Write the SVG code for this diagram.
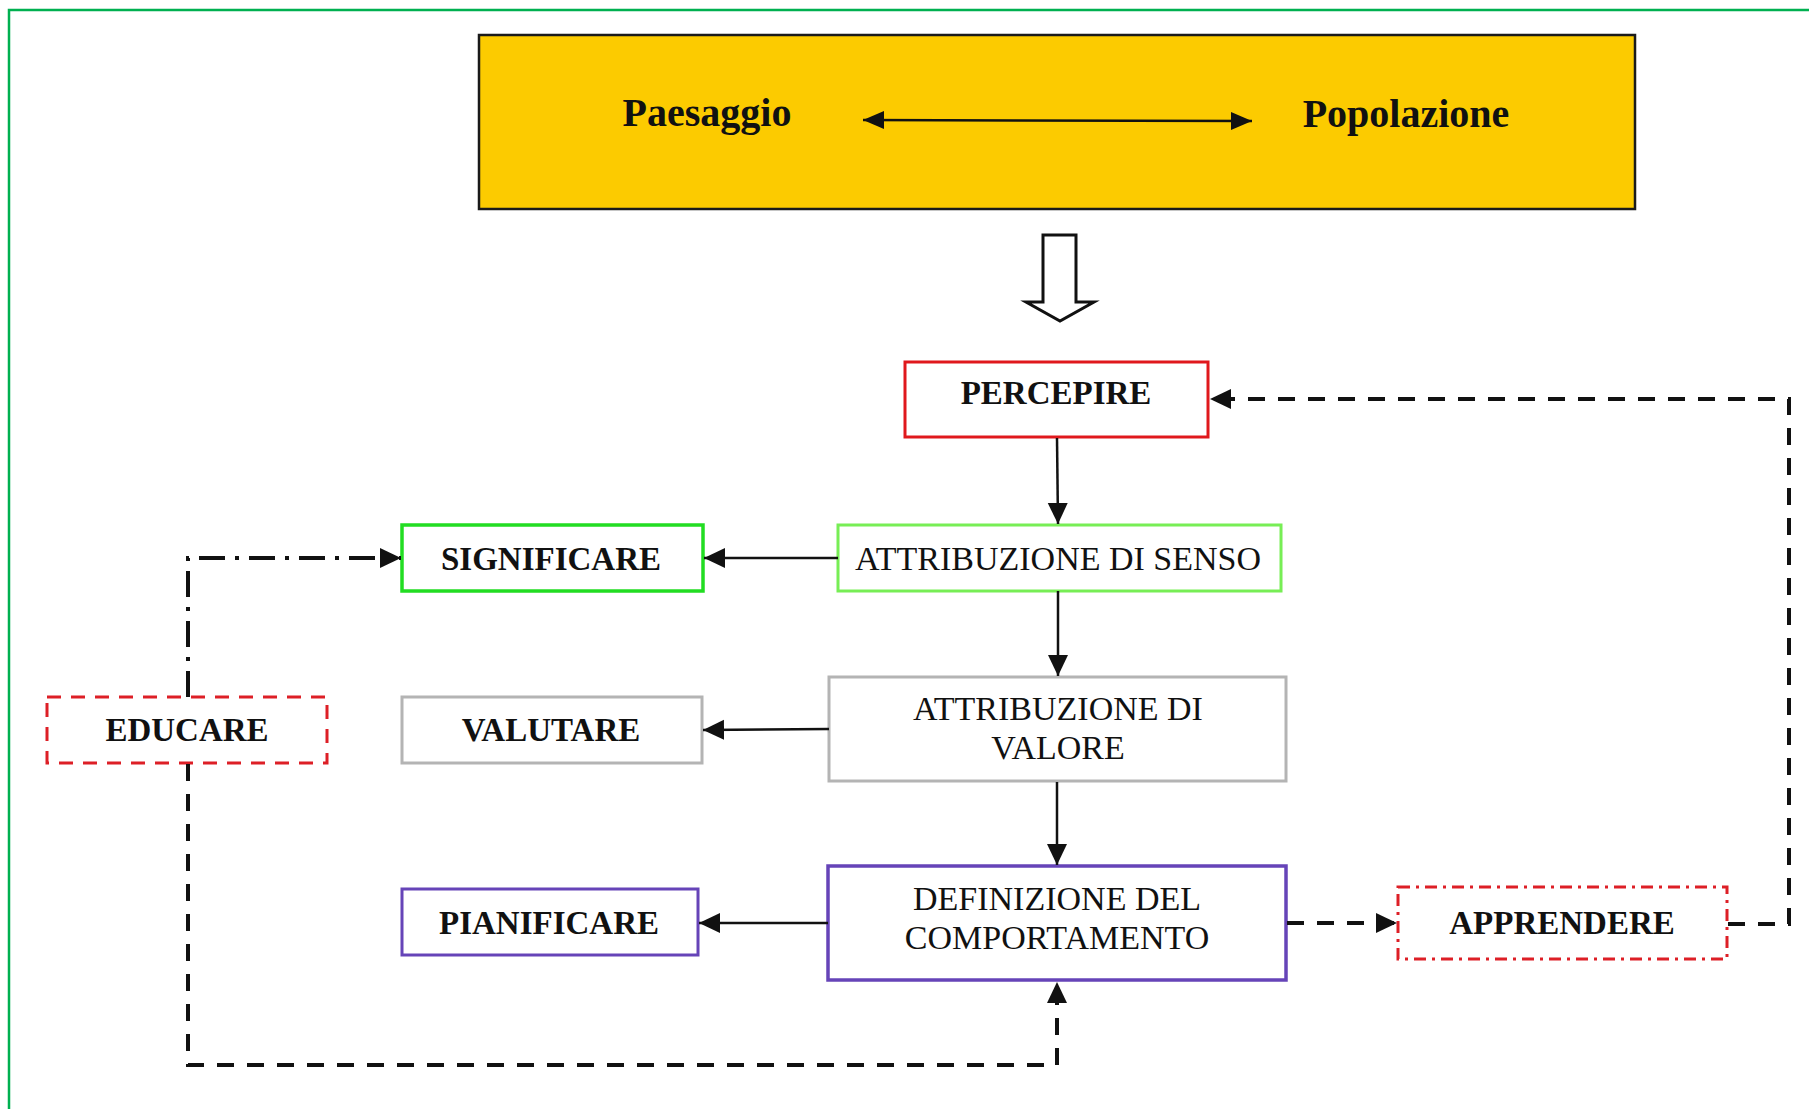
<svg xmlns="http://www.w3.org/2000/svg" width="1809" height="1109" viewBox="0 0 1809 1109">
<style>
.bx{fill:#fff;stroke-width:3}
.b{font-family:"Liberation Serif","Times New Roman",serif;font-weight:bold;font-size:33px;fill:#111;text-anchor:middle}
.r{font-family:"Liberation Serif","Times New Roman",serif;font-size:34px;fill:#111;text-anchor:middle}
.ln{fill:none;stroke:#111;stroke-width:2.5}
.dash{fill:none;stroke:#111;stroke-width:4;stroke-dasharray:17 13}
.dd{fill:none;stroke:#111;stroke-width:4;stroke-dasharray:26 10 4 10}
</style>
<defs>
<marker id="ah" markerUnits="userSpaceOnUse" markerWidth="22" markerHeight="22" viewBox="0 0 22 22" refX="21" refY="11" orient="auto">
<path d="M0,1 L21,11 L0,21 Z" fill="#111" stroke="none"/>
</marker>
<marker id="ah2" markerUnits="userSpaceOnUse" markerWidth="22" markerHeight="20" viewBox="0 0 22 20" refX="21" refY="10" orient="auto-start-reverse">
<path d="M0,1 L21,10 L0,19 Z" fill="#111" stroke="none"/>
</marker>
</defs>
<rect width="1809" height="1109" fill="#fff"/>
<rect x="9" y="10" width="1840" height="1200" fill="none" stroke="#00B050" stroke-width="2.5"/>

<g id="top">
<rect x="479" y="35" width="1156" height="174" fill="#FCCB00" stroke="#1a1a1a" stroke-width="2.5"/>
<text x="707" y="126" class="b" style="font-size:40px">Paesaggio</text>
<text x="1406" y="127" class="b" style="font-size:40px">Popolazione</text>
<line x1="863" y1="120" x2="1252" y2="121" class="ln" marker-start="url(#ah2)" marker-end="url(#ah2)"/>
</g>
<g id="bigarrow">
<polygon points="1043,235 1076,235 1076,302 1094,302 1060,321 1026,302 1043,302" fill="#fff" stroke="#111" stroke-width="3"/>
</g>

<g id="percepire">
<rect x="905" y="362" width="303" height="75" class="bx" stroke="#E0181C"/>
<text x="1056" y="404" class="b">PERCEPIRE</text>
</g>
<g id="senso">
<rect x="838" y="525" width="443" height="66" class="bx" stroke="#77EE55"/>
<text x="1058" y="570" class="r">ATTRIBUZIONE DI SENSO</text>
</g>
<g id="significare">
<rect x="402" y="525" width="301" height="66" class="bx" stroke="#22DD22" style="stroke-width:3.5"/>
<text x="551" y="570" class="b">SIGNIFICARE</text>
</g>
<g id="valore">
<rect x="829" y="677" width="457" height="104" class="bx" stroke="#B4B4B4"/>
<text x="1058" y="720" class="r">ATTRIBUZIONE DI</text>
<text x="1058" y="759" class="r">VALORE</text>
</g>
<g id="valutare">
<rect x="402" y="697" width="300" height="66" class="bx" stroke="#B4B4B4"/>
<text x="551" y="741" class="b">VALUTARE</text>
</g>
<g id="definizione">
<rect x="828" y="866" width="458" height="114" class="bx" stroke="#6644B8" style="stroke-width:3.5"/>
<text x="1057" y="910" class="r">DEFINIZIONE DEL</text>
<text x="1057" y="949" class="r">COMPORTAMENTO</text>
</g>
<g id="pianificare">
<rect x="402" y="889" width="296" height="66" class="bx" stroke="#6644B8"/>
<text x="549" y="934" class="b">PIANIFICARE</text>
</g>
<g id="educare">
<rect x="47" y="697" width="280" height="66" class="bx" stroke="#DD1F26" style="stroke-dasharray:14 10"/>
<text x="187" y="741" class="b">EDUCARE</text>
</g>
<g id="apprendere">
<rect x="1398" y="887" width="329" height="72" class="bx" stroke="#DD1F26" style="stroke-dasharray:12 6 3 6"/>
<text x="1562" y="934" class="b">APPRENDERE</text>
</g>

<g id="connectors">
<line x1="1057" y1="438" x2="1058" y2="524" class="ln" marker-end="url(#ah)"/>
<line x1="1058" y1="591" x2="1058" y2="676" class="ln" marker-end="url(#ah)"/>
<line x1="1057" y1="782" x2="1057" y2="865" class="ln" marker-end="url(#ah)"/>
<line x1="838" y1="558" x2="704" y2="558" class="ln" marker-end="url(#ah)"/>
<line x1="829" y1="729" x2="703" y2="730" class="ln" marker-end="url(#ah)"/>
<line x1="828" y1="923" x2="699" y2="923" class="ln" marker-end="url(#ah)"/>
<path d="M188,697 V558 H401" class="dd" marker-end="url(#ah)"/>
<path d="M188,764 V1065 H1057 V982" class="dash" marker-end="url(#ah)"/>
<path d="M1287,923 H1397" class="dash" marker-end="url(#ah)"/>
<path d="M1728,924 H1789 V399 H1210" class="dash" marker-end="url(#ah)"/>
</g>
</svg>
